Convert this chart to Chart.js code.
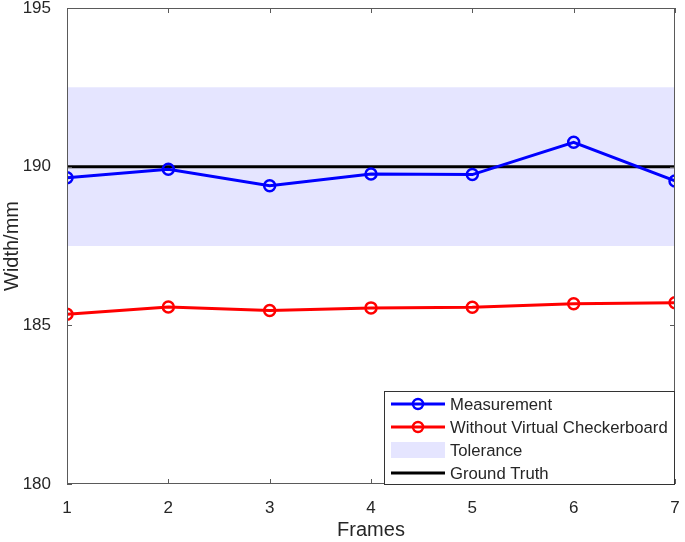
<!DOCTYPE html>
<html><head><meta charset="utf-8">
<script src="https://cdn.jsdelivr.net/npm/chart.js@4/dist/chart.umd.min.js"></script>
<style>html,body{margin:0;padding:0;background:#fff}#wrap{width:685px;height:542px}</style>
</head><body><div id="wrap"><canvas id="c" width="685" height="542"></canvas></div>
<script>
const frames = [1, 2, 3, 4, 5, 6, 7];
const measurement = [189.65, 189.92, 189.4, 189.77, 189.75, 190.77, 189.55];
const withoutCheckerboard = [185.35, 185.58, 185.47, 185.55, 185.57, 185.68, 185.71];
const groundTruth = [190, 190];
const toleranceUpper = [192.5, 192.5];
const toleranceLower = [187.5, 187.5];
const xEnds = [1, 7];
const yTicks = [180, 185, 190, 195];

const pts = (xs, ys) => xs.map((x, i) => ({x: x, y: ys[i]}));
const FONT = '"Liberation Sans", Arial, sans-serif';

const boxPlugin = {
  id: 'boxPlugin',
  afterDatasetsDraw(chart) {
    const {ctx, chartArea: a, scales} = chart;
    ctx.save();
    ctx.strokeStyle = '#5a5a5a';
    ctx.lineWidth = 1;
    ctx.strokeRect(a.left + 0.5, a.top + 0.5, a.right - a.left - 1, a.bottom - a.top - 1);
    const tl = 5;
    frames.forEach(v => {
      const x = Math.round(scales.x.getPixelForValue(v)) + 0.5;
      ctx.beginPath();
      ctx.moveTo(x, a.bottom); ctx.lineTo(x, a.bottom - tl);
      ctx.moveTo(x, a.top); ctx.lineTo(x, a.top + tl);
      ctx.stroke();
    });
    yTicks.forEach(v => {
      const y = Math.round(scales.y.getPixelForValue(v)) + 0.5;
      ctx.beginPath();
      ctx.moveTo(a.left, y); ctx.lineTo(a.left + tl, y);
      ctx.moveTo(a.right, y); ctx.lineTo(a.right - tl, y);
      ctx.stroke();
    });
    // legend
    const lx = 384, ly = 391, lw = 291, lh = 94;
    ctx.fillStyle = '#fff';
    ctx.fillRect(lx, ly, lw, lh);
    ctx.strokeStyle = '#333';
    ctx.strokeRect(lx + 0.5, ly + 0.5, lw - 1, lh - 1);
    const rows = [404, 427, 450, 473];
    const ds = chart.data.datasets;
    const entries = [
      {label: ds[0].label, color: 'blue', marker: true},
      {label: ds[1].label, color: 'red', marker: true},
      {label: ds[2].label, band: true},
      {label: ds[4].label, color: 'black'}
    ];
    ctx.font = '16.7px ' + FONT;
    ctx.textBaseline = 'middle';
    entries.forEach((e, i) => {
      const y = rows[i];
      if (e.band) {
        ctx.fillStyle = 'rgba(0,0,255,0.1)';
        ctx.fillRect(391, y - 8, 54, 16);
      } else {
        ctx.strokeStyle = e.color;
        ctx.lineWidth = 3;
        ctx.beginPath(); ctx.moveTo(391, y); ctx.lineTo(445, y); ctx.stroke();
        if (e.marker) {
          ctx.lineWidth = 2.5;
          ctx.beginPath(); ctx.arc(418, y, 5, 0, Math.PI * 2); ctx.stroke();
        }
      }
      ctx.fillStyle = '#262626';
      ctx.fillText(e.label, 450, y + 1);
    });
    ctx.restore();
  }
};

new Chart(document.getElementById('c'), {
  type: 'line',
  data: {
    datasets: [
      {label: 'Measurement', data: pts(frames, measurement), borderColor: 'blue', borderWidth: 3,
       pointStyle: 'circle', pointRadius: 5.5, pointBorderWidth: 2.5, pointBackgroundColor: 'rgba(0,0,0,0)', pointBorderColor: 'blue', order: 1},
      {label: 'Without Virtual Checkerboard', data: pts(frames, withoutCheckerboard), borderColor: 'red', borderWidth: 3,
       pointStyle: 'circle', pointRadius: 5.5, pointBorderWidth: 2.5, pointBackgroundColor: 'rgba(0,0,0,0)', pointBorderColor: 'red', order: 1},
      {label: 'Tolerance', data: pts(xEnds, toleranceUpper), borderWidth: 0, borderColor: 'rgba(0,0,0,0)', pointRadius: 0,
       fill: '+1', backgroundColor: 'rgba(0,0,255,0.1)', order: 5},
      {label: 'ToleranceLower', data: pts(xEnds, toleranceLower), borderWidth: 0, borderColor: 'rgba(0,0,0,0)', pointRadius: 0, order: 5},
      {label: 'Ground Truth', data: pts(xEnds, groundTruth), borderColor: 'black', borderWidth: 3, pointRadius: 0, order: 3}
    ]
  },
  options: {
    responsive: false,
    animation: false,
    layout: {padding: {top: 5, right: 10, left: 0, bottom: 0}},
    plugins: {legend: {display: false}, tooltip: {enabled: false}},
    scales: {
      x: {type: 'linear', min: 1, max: 7,
          ticks: {stepSize: 1, color: '#262626', font: {size: 17, family: FONT}, padding: 6},
          grid: {display: false}, border: {display: false},
          title: {display: true, text: 'Frames', color: '#262626', font: {size: 20, family: FONT}, padding: {top: 8, bottom: 0}},
          afterFit(s) { s.height = 58; s.paddingLeft = 0; s.paddingRight = 0; }},
      y: {min: 180, max: 195,
          ticks: {stepSize: 5, color: '#262626', font: {size: 17, family: FONT}, padding: 8},
          grid: {display: false}, border: {display: false},
          title: {display: true, text: 'Width/mm', color: '#262626', font: {size: 20, family: FONT}, padding: {top: 0, bottom: 2}},
          afterFit(s) { s.width = 67; s.paddingTop = 0; s.paddingBottom = 0; }}
    }
  },
  plugins: [boxPlugin]
});
</script></body></html>
